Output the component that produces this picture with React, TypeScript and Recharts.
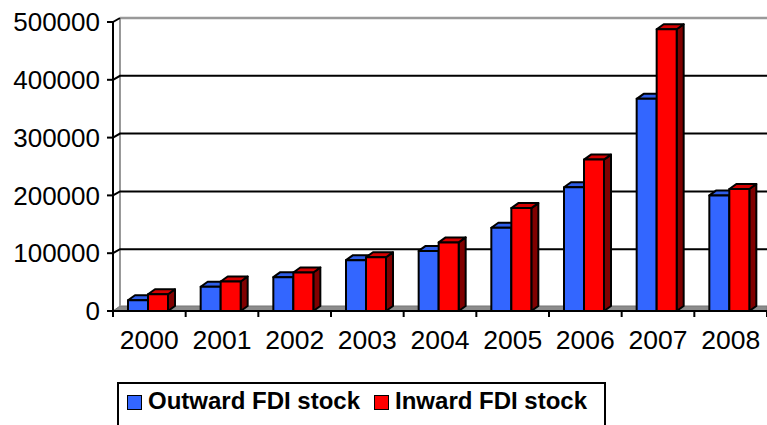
import { BarChart, Bar, XAxis, YAxis, CartesianGrid, Legend } from 'recharts';

const years = ['2000', '2001', '2002', '2003', '2004', '2005', '2006', '2007', '2008'];
const outwardStock = [18500, 42000, 58600, 88000, 104000, 144000, 214000, 367000, 200000];
const inwardStock = [29000, 51000, 66700, 93000, 118700, 178000, 262000, 487500, 211000];
const yTicks = [0, 100000, 200000, 300000, 400000, 500000];
const seriesNames = ['Outward FDI stock', 'Inward FDI stock'];
const seriesColors = ['#3366ff', '#ff0000'];

const chartData = years.map((year, i) => ({
  year,
  outward: outwardStock[i],
  inward: inwardStock[i],
}));

const FONT = '"Liberation Sans", Arial, sans-serif';
const DX = 7;
const DY = 5;

// 3d-ish column: front face, top face and right side
const Box3D = (props: any) => {
  const { x, y, width, height, front, top, side } = props;
  if (width == null || height == null) return null;
  const x0 = x - 1;
  const x1 = x0 + width;
  const y1 = y + height;
  const common = { stroke: '#000', strokeWidth: 2, strokeLinejoin: 'round' as const };
  return (
    <g>
      <polygon
        points={`${x1},${y} ${x1 + DX},${y - DY} ${x1 + DX},${y1 - DY} ${x1},${y1}`}
        fill={side}
        {...common}
      />
      <polygon
        points={`${x0},${y} ${x0 + DX},${y - DY} ${x1 + DX},${y - DY} ${x1},${y}`}
        fill={top}
        {...common}
      />
      <rect x={x0} y={y} width={width} height={height} fill={front} {...common} />
    </g>
  );
};

const gridLine = (props: any) => {
  const { x1, y1, x2, key, y: gy, height: gh } = props;
  const top = gy ?? 22;
  const bottom = gh != null ? top + gh : 311;
  if (Math.abs(y1 - bottom) < 1) {
    return (
      <g key={key}>
        <polygon
          points={`${x1},${y1} ${x1 + DX},${y1 - DY} ${x2},${y1 - DY} ${x2},${y1}`}
          fill="#8c8c8c"
          stroke="#777"
          strokeWidth={1}
        />
        <line x1={x1 + DX} y1={top - 4} x2={x1 + DX} y2={y1 - DY} stroke="#999" strokeWidth={2} />
      </g>
    );
  }
  if (Math.abs(y1 - top) < 1) {
    return (
      <g key={key}>
        <line x1={x1 + DX} y1={y1 - 4} x2={x2} y2={y1 - 4} stroke="#999" strokeWidth={2.5} />
        <line x1={x1} y1={y1} x2={x1 + DX} y2={y1 - 4} stroke="#000" strokeWidth={2} />
      </g>
    );
  }
  return (
    <polyline
      key={key}
      points={`${x1},${y1} ${x1 + DX},${y1 - 4} ${x2},${y1 - 4}`}
      fill="none"
      stroke="#000"
      strokeWidth={2}
    />
  );
};

const YearTick = (props: any) => {
  const { x, y, payload, index } = props;
  const half = payload?.offset ?? 36.33;
  const axisY = y - 8;
  return (
    <g>
      {index === 0 && (
        <line x1={x - half} y1={axisY} x2={x - half} y2={axisY + 6} stroke="#000" strokeWidth={2} />
      )}
      <line x1={x + half} y1={axisY} x2={x + half} y2={axisY + 6} stroke="#000" strokeWidth={2} />
      <text x={x} y={y + 29.5} textAnchor="middle" fill="#000" fontSize={26.5} fontFamily={FONT}>
        {payload.value}
      </text>
    </g>
  );
};

const LegendBox = () => (
  <div
    style={{
      border: '2px solid #000',
      boxSizing: 'border-box',
      width: 489,
      height: 60,
      display: 'flex',
      alignItems: 'flex-start',
      paddingTop: 3,
      paddingLeft: 8,
      fontFamily: FONT,
      fontWeight: 700,
      fontSize: 24,
      color: '#000',
      lineHeight: '28px',
    }}
  >
    {seriesNames.map((label, i) => (
      <div key={label} style={{ display: 'flex', alignItems: 'center', marginRight: 14 }}>
        <span
          style={{
            display: 'inline-block',
            width: 15,
            height: 15,
            boxSizing: 'border-box',
            background: seriesColors[i],
            border: '1.5px solid #000',
            marginRight: 6,
            marginTop: 2,
          }}
        />
        <span>{label}</span>
      </div>
    ))}
  </div>
);

export default function App() {
  return (
    <div style={{ position: 'absolute', left: 0, top: 0, width: 767, height: 425, background: '#fff' }}>
      <BarChart
        width={767}
        height={425}
        data={chartData}
        margin={{ top: 22, right: 0, left: 0, bottom: 74 }}
        barGap={0}
        barSize={20}
      >
        <CartesianGrid vertical={false} horizontal={gridLine} />
        <XAxis
          dataKey="year"
          height={40}
          axisLine={{ stroke: '#000', strokeWidth: 2 }}
          tickLine={false}
          tick={<YearTick />}
          interval={0}
        />
        <YAxis
          width={113}
          domain={[0, 500000]}
          ticks={yTicks}
          interval={0}
          axisLine={{ stroke: '#000', strokeWidth: 2 }}
          tickLine={{ stroke: '#000', strokeWidth: 2 }}
          tickSize={6}
          tickMargin={7}
          tick={{ fill: '#000', fontSize: 26, fontFamily: FONT }}
        />
        <Legend
          layout="horizontal"
          verticalAlign="middle"
          align="center"
          content={<LegendBox />}
          wrapperStyle={{ top: 382, left: 117, width: 489, height: 60 }}
        />
        <Bar
          dataKey="outward"
          name={seriesNames[0]}
          fill={seriesColors[0]}
          isAnimationActive={false}
          shape={(p: any) => <Box3D {...p} front={seriesColors[0]} top="#2f5ee8" side="#1f3fa8" />}
        />
        <Bar
          dataKey="inward"
          name={seriesNames[1]}
          fill={seriesColors[1]}
          isAnimationActive={false}
          shape={(p: any) => <Box3D {...p} front={seriesColors[1]} top="#d40000" side="#800000" />}
        />
      </BarChart>
    </div>
  );
}
